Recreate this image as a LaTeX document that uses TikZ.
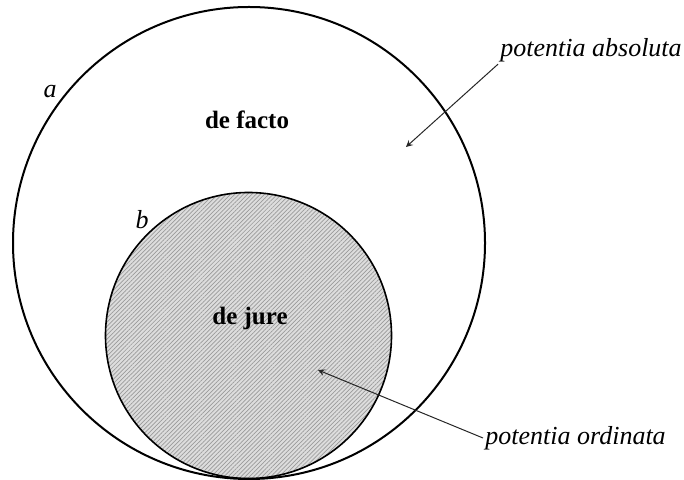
\documentclass[tikz,border=0pt]{standalone}
\usepackage{fontspec}
\setmainfont{Liberation Serif}
\usepackage{tikz}
\usetikzlibrary{patterns.meta}
\definecolor{hatchC}{HTML}{9A9A9A}
\definecolor{fillC}{HTML}{DDDDDD}

\begin{document}
\begin{tikzpicture}[x=0.5pt,y=-0.5pt]
\tikzset{lbl/.style={font=\fontsize{13}{15}\selectfont\itshape,inner sep=1pt},
  zone/.style={font=\fontsize{12.5}{15}\selectfont\bfseries},
  ptr/.style={-stealth,line width=0.5pt,black!85}}
\useasboundingbox (0,0) rectangle (684,480);
\def\R{236}\def\r{143}
\fill[fillC](248.5,335.5) circle[radius=\r];
\fill[pattern={Lines[angle=45,distance=1.5pt,line width=0.35pt]},pattern color=hatchC](248.5,335.5) circle[radius=\r];
\draw[line width=0.8pt](248.5,335.5) circle[radius=\r];
\draw[line width=1pt](249,243) circle[radius=\R];
\node[lbl] (a) at (50,92) {a};
\node[lbl] (b) at (142,220) {b};
\node[zone] (facto) at (247,120) {de facto};
\node[zone] (jure) at (250,318) {de jure};
\node[lbl,anchor=west] (absol) at (498,50) {potentia absoluta};
\node[lbl,anchor=west] (ordin) at (483,438) {potentia ordinata};
\coordinate (absTip) at (406,147);
\coordinate (ordTip) at (318,370);
\draw[ptr] (absol.south west) -- (absTip);
\draw[ptr] (ordin.west) -- (ordTip);
\end{tikzpicture}
\end{document}
